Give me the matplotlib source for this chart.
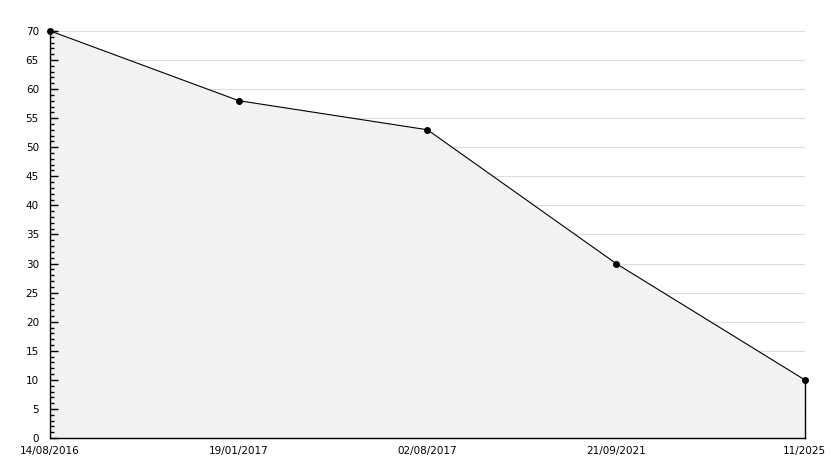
import matplotlib
matplotlib.use("Agg")
import matplotlib.pyplot as plt
import numpy as np

labels = ["14/08/2016", "19/01/2017", "02/08/2017", "21/09/2021", "11/2025"]
values = [70, 58, 53, 30, 10]

fig = plt.figure(figsize=(8.34, 4.68), dpi=100)
ax = fig.add_axes([0.06, 0.064, 0.905, 0.87])

x = np.arange(len(labels))

# gridlines sit under the fill
for yv in range(5, 71, 5):
    ax.axhline(yv, color="#dddddd", lw=0.8, zorder=0)

ax.fill_between(x, values, 0, facecolor="#f2f2f2", edgecolor="none", zorder=1)
ax.plot([x[-1], x[-1]], [0, values[-1]], color="black", lw=1, zorder=2, clip_on=False)
ax.plot(x, values, color="black", lw=0.8, marker="o", markersize=4, zorder=3, clip_on=False)

ax.set_xlim(0, len(labels) - 1)
ax.set_ylim(0, 70)
ax.set_xticks(x)
ax.set_xticklabels(labels)
ax.set_yticks(range(0, 71, 5))
ax.set_yticks(range(0, 71, 1), minor=True)

for s in ["top", "right"]:
    ax.spines[s].set_visible(False)
for s in ["left", "bottom"]:
    ax.spines[s].set_linewidth(1)
    ax.spines[s].set_zorder(2.5)

ax.tick_params(axis="y", which="major", direction="in", length=6, width=1, labelsize=7.5, pad=8)
ax.tick_params(axis="y", which="minor", direction="in", length=3, width=1)
ax.tick_params(axis="x", length=0, labelsize=7.5, pad=6)

plt.savefig("out.png", dpi=100)
